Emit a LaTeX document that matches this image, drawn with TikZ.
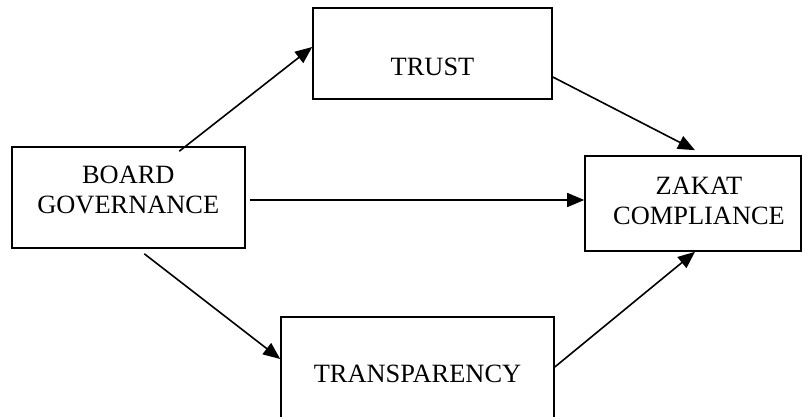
\documentclass[tikz,border=0pt]{standalone}
\usepackage{fontspec}
\setmainfont{Liberation Serif}
\usetikzlibrary{arrows.meta,calc}
\begin{document}
\begin{tikzpicture}[x=1pt,y=-1pt,
  box/.style={draw,line width=1.6pt,rectangle,inner sep=0pt},
  lbl/.style={align=center,font=\fontsize{26.4}{30}\selectfont,inner sep=0pt},
  conn/.style={line width=1.6pt,-{Triangle[length=17pt,width=14pt]}}]
\useasboundingbox (0,0) rectangle (805,417);
\clip (0,0) rectangle (805,417);
\node[box,minimum width=233pt,minimum height=101pt] (bg) at (128.3,197.5) {};
\node[box,minimum width=239pt,minimum height=91pt] (trust) at (432.5,53.5) {};
\node[box,minimum width=216pt,minimum height=95pt] (zakat) at (693,203.5) {};
\node[box,minimum width=273pt,minimum height=113pt] (transp) at (417.5,373.5) {};
\node[lbl] (bgt) at ([yshift=7.5pt]bg.center) {BOARD\\GOVERNANCE};
\node[lbl] (trustt) at ([yshift=-13.5pt]trust.center) {TRUST};
\node[lbl] (zakatt) at ([xshift=6pt,yshift=3pt]zakat.center) {ZAKAT\\COMPLIANCE};
\node[lbl] (transpt) at ([yshift=-0.5pt]transp.center) {TRANSPARENCY};
\draw[conn] ([xshift=51pt,yshift=-5pt]bg.north) -- ([yshift=6.5pt]trust.west);
\draw[conn] ([yshift=-23.5pt]trust.east) -- ([xshift=2pt,yshift=5pt]zakat.north);
\draw[conn] ([xshift=4pt,yshift=-2.5pt]bg.east) -- ([yshift=-2.5pt]zakat.west |- bg.east);
\draw[conn] ([xshift=16pt,yshift=-5pt]bg.south) -- ([yshift=14.5pt]transp.west);
\draw[conn] ([yshift=6.5pt]transp.east) -- ([xshift=2pt]zakat.south);
\end{tikzpicture}
\end{document}
